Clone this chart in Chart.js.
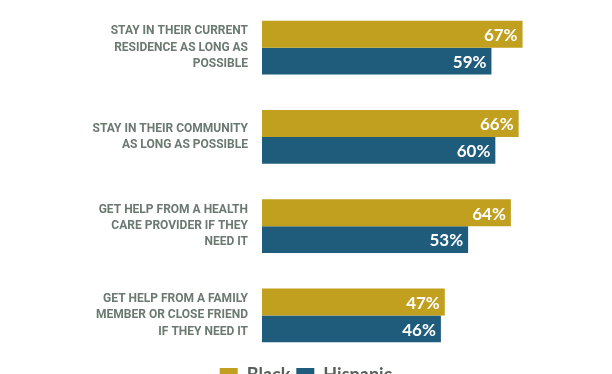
<!DOCTYPE html>
<html>
<head>
<meta charset="utf-8">
<script src="https://cdn.jsdelivr.net/npm/chart.js@4"></script>
<style>
  html, body { margin: 0; padding: 0; background: #fff; }
  #wrap { position: relative; width: 612px; height: 374px; }
</style>
</head>
<body>
<div id="wrap"><canvas id="chart"></canvas></div>
<script>
const categories = [
    ['STAY IN THEIR CURRENT', 'RESIDENCE AS LONG AS', 'POSSIBLE'],
    ['STAY IN THEIR COMMUNITY', 'AS LONG AS POSSIBLE'],
    ['GET HELP FROM A HEALTH', 'CARE PROVIDER IF THEY', 'NEED IT'],
    ['GET HELP FROM A FAMILY', 'MEMBER OR CLOSE FRIEND', 'IF THEY NEED IT']
];
const blackValues = [67, 66, 64, 47];
const hispanicValues = [59, 60, 53, 46];

// percent labels inside the end of each bar
const valueLabels = {
    id: 'valueLabels',
    afterDatasetsDraw(chart) {
        const ctx = chart.ctx;
        ctx.save();
        ctx.fillStyle = '#ffffff';
        ctx.font = 'bold 17px Lato, "Open Sans", sans-serif';
        ctx.textAlign = 'right';
        ctx.textBaseline = 'middle';
        chart.data.datasets.forEach((ds, i) => {
            chart.getDatasetMeta(i).data.forEach((bar, j) => {
                ctx.fillText(ds.data[j] + '%', bar.x - 5, bar.y + 1.5);
            });
        });
        ctx.restore();
    }
};

new Chart(document.getElementById('chart'), {
    type: 'bar',
    data: {
        labels: categories,
        datasets: [
            { label: 'Black', data: blackValues, backgroundColor: '#C1A01F' },
            { label: 'Hispanic', data: hispanicValues, backgroundColor: '#1F5C7B' }
        ]
    },
    options: {
        indexAxis: 'y',
        responsive: true,
        maintainAspectRatio: false,
        animation: false,
        categoryPercentage: 0.6,
        barPercentage: 1.0,
        layout: { padding: { top: 3, right: 0, bottom: -20, left: 0 } },
        plugins: {
            legend: {
                position: 'bottom',
                labels: {
                    boxWidth: 18, boxHeight: 14,
                    color: '#56625a',
                    font: { size: 18, weight: 'bold', family: 'Lato, "Open Sans", sans-serif' },
                    padding: 6
                }
            },
            tooltip: { enabled: false }
        },
        scales: {
            x: { min: 0, max: 90, display: false },
            y: {
                // invisible tick marks give the gap between labels and bars
                grid: { display: true, drawOnChartArea: false, drawTicks: true, tickLength: 14, color: 'rgba(0,0,0,0)' },
                border: { display: false },
                ticks: {
                    color: '#6b7a6f',
                    padding: 0,
                    font: { size: 12, weight: 'bold', family: 'Roboto, sans-serif', lineHeight: 1.35 }
                },
                afterFit(scale) {
                    scale.width = 262;
                    scale.paddingTop = 0;
                    scale.paddingBottom = 0;
                }
            }
        }
    },
    plugins: [valueLabels]
});
</script>
</body>
</html>
